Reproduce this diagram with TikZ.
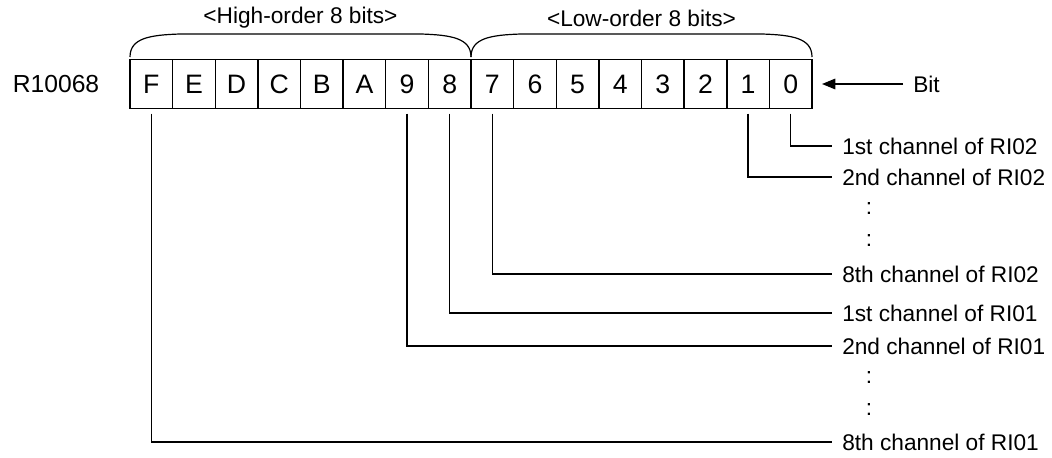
\documentclass[tikz,border=0pt]{standalone}
\usepackage{fontspec}
\setmainfont{Liberation Sans}
\usetikzlibrary{positioning,calc,arrows.meta}

\tikzset{
  txt/.style={font=\fontsize{17}{20}\selectfont},
  cell/.style={font=\fontsize{20}{24}\selectfont, draw, line width=1.1pt, minimum width=31.97pt, minimum height=36.75pt, inner sep=0pt, outer sep=0pt},
  chan/.style={txt, anchor=west, inner xsep=7.5pt, inner ysep=0pt},
  wire/.style={line width=0.9pt},
  brace/.style={line width=0.9pt},
  bitarrow/.style={line width=0.9pt, -{Triangle[length=10pt,width=8pt]}},
}

\begin{document}
\begin{tikzpicture}[x=0.75pt,y=-0.75pt]
    \useasboundingbox (0,0) rectangle (1052,457);
    % register cells
    \node[cell, anchor=north west] (bitF) at (130,59.5) {F};
    \foreach \b [remember=\b as \prev (initially F)] in {E,D,C,B,A,9,8,7,6,5,4,3,2,1,0}
        \node[cell, right=0pt of bit\prev] (bit\b) {\b};
    \node[font=\fontsize{18.5}{22}\selectfont] (reg) at (56,84) {R10068};

    % braces and labels
    \draw[brace] (130,57) .. controls (130,38) and (150,35) .. (180,34) -- (421,34) .. controls (451,35) and (471,38) .. (471,57);
    \draw[brace] (471,57) .. controls (471,38) and (491,35) .. (521,34) -- (762,34) .. controls (792,35) and (812,38) .. (812,57);
    \node[txt] (hiLbl) at (300.5,18) {<High-order 8 bits>};
    \node[txt] (loLbl) at (641.5,18) {<Low-order 8 bits>};

    % bit arrow
    \node[chan] (bitLbl) at (903,84) {Bit};
    \draw[bitarrow] (bitLbl.west) -- ($(bit0.east)+(10,0)$);

    % channels
    \node[chan] (ch0) at (832,146) {1st channel of RI02};
    \node[chan] (ch1) at (832,177) {2nd channel of RI02};
    \node[txt] (dotsA) at (869,209) {:};
    \node[txt] (dotsB) at (869,241) {:};
    \node[chan] (ch7) at (832,274) {8th channel of RI02};
    \node[chan] (ch8) at (832,313) {1st channel of RI01};
    \node[chan] (ch9) at (832,346) {2nd channel of RI01};
    \node[txt] (dotsC) at (869,378) {:};
    \node[txt] (dotsD) at (869,410) {:};
    \node[chan] (chF) at (832,442) {8th channel of RI01};

    \foreach \b in {0,1,7,8,9,F}
        \draw[wire] ([yshift=-3.75pt]bit\b.south) |- (ch\b.west);
\end{tikzpicture}
\end{document}
